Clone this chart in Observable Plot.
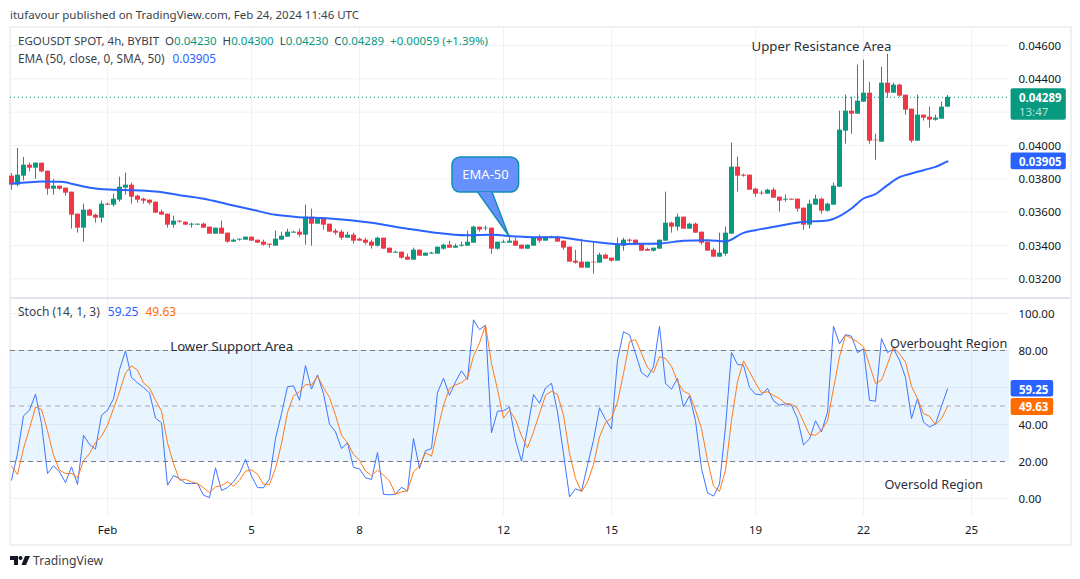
<!DOCTYPE html>
<html>
<head>
<meta charset="utf-8">
<script src="https://cdn.jsdelivr.net/npm/d3@7"></script>
<script src="https://cdn.jsdelivr.net/npm/@observablehq/plot@0.6"></script>
<style>
  body { margin: 0; background: #fff; font-family: "Noto Sans", sans-serif; color: #131722; }
  #page { position: relative; width: 1080px; height: 579px; overflow: hidden; }
  #frame { position: absolute; left: 9px; top: 26px; width: 1059px; height: 516px; border: 2px solid #eff0f4; }
  #divider { position: absolute; left: 11px; top: 297px; width: 1059px; height: 2px; background: #e0e3eb; }
  .line { position: absolute; font-size: 11.5px; white-space: pre; line-height: 16px; z-index: 2; color: #3b3f4a; }
  .up { color: #089981; }
  .k { color: #2962ff; }
  .d { color: #ff6d00; }
  #chart svg { position: absolute; left: 0; }
  #footer { position: absolute; left: 33px; top: 552px; font-size: 12.2px; line-height: 18px; color: #3b3f4a; }
  #logo { position: absolute; left: 10px; top: 556px; }
</style>
</head>
<body>
<div id="page">
  <div class="line" style="left:10px;top:7px">itufavour published on TradingView.com, Feb 24, 2024 11:46 UTC</div>
  <div id="frame"></div>
  <div id="chart"></div>
  <div id="divider"></div>
  <div class="line" style="left:18px;top:33px">EGOUSDT SPOT, 4h, BYBIT  O<span class="up">0.04230</span>  H<span class="up">0.04300</span>  L<span class="up">0.04230</span>  C<span class="up">0.04289</span>  <span class="up">+0.00059 (+1.39%)</span></div>
  <div class="line" style="left:18px;top:50px;font-size:11.8px">EMA (50, close, 0, SMA, 50)<span class="k" style="margin-left:8px">0.03905</span></div>
  <div class="line" style="left:18px;top:304px;font-size:12px">Stoch (14, 1, 3)<span class="k" style="margin-left:8px">59.25</span><span class="d" style="margin-left:7px">49.63</span></div>
  <svg id="logo" width="20" height="10" viewBox="0 0 20 10"><path fill="#131722" d="M0 0H8V9H4V4H0Z"/><circle cx="10.5" cy="2" r="2" fill="#131722"/><path fill="#131722" d="M15 0H20L16 9H11.5Z"/></svg>
  <div id="footer">TradingView</div>
</div>
<script>
// 4h candles, Jan 29 to Feb 24, prices in 1/100000 USDT
const opens = [
  3816,3762,3816,3882,3864,3894,3846,3738,3756,3744,3720,3588,3504,3612,3582,3564,
  3648,3642,3672,3744,3762,3696,3678,3672,3660,3600,3588,3522,3546,3540,3522,3522,3528,3510,3468,3504,
  3474,3420,3432,3432,3450,3432,3420,3408,3396,3432,3450,3474,3480,3462,3570,3528,3558,3528,3486,3480,
  3444,3462,3438,3432,3420,3396,3444,3384,3354,3360,3330,3312,3372,3336,3348,3348,3378,3402,3384,3396,
  3396,3414,3510,3500,3504,3378,3414,3414,3426,3402,3378,3396,3450,3426,3448,3450,3426,3390,3306,3300,
  3264,3300,3294,3342,3324,3306,3396,3432,3432,3408,3376,3366,3378,3426,3534,3510,3570,3498,3528,3480,
  3420,3372,3330,3348,3468,3870,3822,3822,3738,3714,3708,3732,3690,3672,3678,3678,3624,3522,3642,3678,
  3606,3642,3750,4086,4206,4188,4260,4314,4032,4020,4374,4314,4362,4302,4218,4026,4182,4170,4152,4158,4230
]
const highs = [
  3832,3982,3928,3894,3894,3894,3846,3796,3756,3744,3720,3588,3648,3618,3588,3666,
  3654,3708,3810,3834,3774,3702,3684,3672,3660,3612,3588,3576,3546,3540,3534,3528,3534,3510,3504,3546,
  3474,3438,3438,3450,3450,3432,3432,3408,3486,3480,3498,3486,3498,3642,3618,3558,3558,3528,3498,3492,
  3480,3474,3444,3444,3432,3450,3444,3384,3366,3360,3348,3384,3372,3354,3360,3390,3408,3426,3408,3420,
  3486,3516,3510,3516,3504,3420,3432,3462,3444,3402,3402,3444,3462,3450,3456,3456,3426,3390,3372,3438,
  3300,3418,3354,3348,3324,3444,3444,3438,3432,3408,3384,3384,3432,3720,3540,3588,3570,3534,3534,3480,
  3420,3384,3474,3510,4014,3930,3828,3822,3744,3726,3738,3744,3690,3702,3678,3678,3624,3672,3702,3684,
  3654,3774,4206,4302,4290,4482,4512,4380,4068,4470,4548,4374,4368,4302,4218,4302,4182,4230,4182,4260,4300
]
const lows = [
  3732,3752,3788,3842,3798,3836,3702,3702,3732,3696,3498,3474,3420,3576,3534,3534,
  3642,3630,3660,3702,3648,3654,3648,3642,3594,3582,3504,3504,3534,3522,3504,3522,3504,3468,3468,3468,
  3414,3420,3426,3432,3426,3414,3396,3384,3396,3432,3450,3474,3450,3402,3396,3528,3492,3480,3462,3432,
  3444,3408,3426,3402,3378,3390,3378,3354,3354,3318,3312,3312,3336,3336,3348,3348,3372,3384,3384,3390,
  3396,3414,3480,3486,3348,3372,3414,3414,3396,3378,3378,3396,3414,3426,3444,3420,3372,3300,3288,3264,
  3264,3228,3294,3318,3300,3306,3366,3414,3402,3366,3366,3360,3378,3426,3474,3486,3498,3498,3474,3402,
  3366,3330,3330,3336,3468,3720,3810,3732,3690,3702,3708,3684,3600,3660,3672,3600,3492,3498,3642,3588,
  3600,3642,3750,4008,4068,4188,4260,4008,3912,4020,4284,4314,4290,4182,4014,4026,4146,4104,4146,4158,4230
]
const closes = [
  3762,3822,3882,3864,3894,3842,3738,3756,3738,3714,3582,3504,3612,3576,3564,3648,
  3642,3678,3750,3762,3690,3672,3666,3654,3594,3582,3522,3546,3540,3522,3528,3528,3504,3468,3504,3468,
  3420,3432,3438,3450,3426,3414,3402,3402,3438,3456,3480,3480,3462,3570,3528,3558,3522,3480,3474,3444,
  3462,3426,3426,3414,3396,3444,3378,3354,3360,3324,3312,3372,3336,3354,3354,3390,3402,3384,3396,3402,
  3420,3510,3492,3504,3378,3420,3420,3426,3396,3378,3402,3444,3426,3450,3450,3420,3384,3300,3294,3264,
  3300,3296,3342,3318,3306,3402,3432,3426,3402,3366,3366,3384,3432,3534,3510,3570,3498,3528,3474,3414,
  3366,3330,3354,3474,3870,3816,3816,3732,3708,3710,3732,3684,3666,3678,3672,3618,3522,3648,3678,3606,
  3648,3756,4092,4206,4188,4266,4314,4026,4028,4374,4314,4362,4296,4212,4026,4182,4164,4152,4164,4230,4289
]

// EMA 50, read at the candles listed in emaAt
const emaAt = [-16,-13,-11,-8,-7,-6,-4,-2,1,4,8,12,16,20,24,28,32,37,44,50,54,60,64,68,71,75,78,82,85,88,92,96,100,103,106,108,112,116,120,121,124,126,128,130,132,134,136,138,140]
const emaValues = [3772,3780,3784,3782,3780,3770,3754,3742,3734,3732,3724,3702,3680,3648,3616,3584,3570,3562,3536,3500,3480,3462,3464,3454,3450,3450,3436,3418,3408,3410,3412,3428,3432,3424,3476,3492,3518,3542,3550,3560,3622,3682,3708,3762,3810,3832,3852,3872,3905]

const stochK = [
  9.9,24.3,44.7,47.7,56.4,40.5,13.5,17.7,14.4,8.6,17.1,7.6,34.2,29.2,26.7,45,
  47.7,53.9,69.7,79.8,65.4,62.5,60,57.1,43.4,40.9,7.2,12.4,10.8,8.1,8.1,8.1,1.8,0.5,16.6,4.3,
  5.9,9,13.5,21.1,12.1,5.9,5.8,10.6,32.4,45.9,60.4,60.9,53.1,71.9,59.1,66.8,56.7,40.2,36,27,
  30.1,16.8,16,11.2,10.3,24.9,2.2,2,2.3,6.1,4,32.4,16.2,25.8,27,57.3,65,55.8,63.1,69,
  64.3,96.6,91.3,93.7,35.5,47.2,47.4,49.4,31.5,20.2,37.8,56.2,51.5,59.8,62.3,46.8,24.3,0.9,5.2,4,
  18,31.5,49,42.7,37.5,74.8,90.1,88.5,78.4,68.1,65.6,71.2,93.1,62.2,59.1,64.9,49.5,55.5,42,16.2,
  3.1,1.3,7.7,38.7,78.9,72.4,72.1,60,56.4,56,59.5,52.8,50.4,51.2,50.4,43.2,29,32.2,42,36,
  46.8,93.1,83.6,88.6,87.7,78.9,80.9,53.1,52.6,86.5,78.9,80.9,74.8,65.4,43.2,54,41.3,38.7,40.2,49.9,59.25
]
const stochD = [
  17.5,13,27,37.8,49.5,48.1,36.6,23.4,15.3,13.5,13.5,11.2,20.4,24.3,30.3,33.7,
  39.6,48.6,57.7,67.9,71.7,69.4,62.5,59.8,53.1,47.2,30.1,18.9,9.9,10.3,9,8.1,5.8,3.2,6.3,7,
  9,6.7,9.9,14.8,15.5,13.1,7.7,7.6,16.2,29.7,46.5,55.5,57.7,61.6,61.3,66.1,60,54.6,45,34.2,
  30.1,23.8,20.7,14.8,12.4,15.3,12.6,9.5,2.3,3.6,4.1,14.4,17.5,24.7,22.9,36.9,50.4,59.5,61.3,62.7,
  65.2,76.9,84.1,93.7,73,58.9,43.4,47.7,42.7,33.9,27.4,36,45.9,55.8,58,56.2,45,24.3,10.8,3.6,
  9,18.4,33.3,41.1,43.4,52.2,67.6,84.7,85.9,78.4,70.8,68.1,76.6,75.7,71.5,63.1,58,56.4,47.7,37.8,
  20.7,6.7,3.8,15.3,42.3,63.1,74.4,68.5,62.5,57.1,57.7,55.8,54,51.3,51,48.6,41.4,34.6,34.2,36.9,
  42,59.5,76.6,88.3,86.5,84.7,82,72.1,62.2,64,72.6,82,78,73.9,60.7,54,45.9,44.5,39.8,43.2,49.63
]

const priceGrid = [0.032,0.034,0.036,0.038,0.04,0.042,0.044,0.046]
const priceLabels = [0.032,0.034,0.036,0.038,0.04,0.044,0.046]
const stochGrid = [0,20,40,60,80,100]
const dayTicks = [0,24,42,66,84,108,126,144]
const dayLabels = ['Feb','5','8','12','15','19','22','25']

const lastClose = 0.04289
const lastEma = 0.03905
const lastK = 59.25
const lastD = 49.63

const candles = opens.map((o, n) => ({
  i: n - 16,
  open: o / 1e5,
  high: highs[n] / 1e5,
  low: lows[n] / 1e5,
  close: closes[n] / 1e5,
  color: closes[n] >= o ? '#089981' : '#f23645'
}))
const ema = emaAt.map((i, n) => ({i: i, v: emaValues[n] / 1e5}))
const stoch = stochK.map((k, n) => ({i: n - 16, k: k, d: stochD[n]}))

const xDomain = [-16.1667, 150.3333]
const font = '"Noto Sans", sans-serif'
const gridColor = '#f0f1f5'
const labelX = 151.9   // where the price scale labels start
const boxLeft = 150.6
const boxRight = 159.8
const noteColor = '#2a2e39'

const calloutTail = [{i: 61.7, p: 0.0372}, {i: 66.9, p: 0.03456}, {i: 64.1, p: 0.0372}]

let priceChart = Plot.plot({
  width: 1080,
  height: 269,
  marginTop: 0,
  marginBottom: 0,
  marginLeft: 10,
  marginRight: 71,
  style: {fontFamily: font, fontSize: '11.5px', color: '#131722', background: 'transparent', top: '28px'},
  x: {domain: xDomain, axis: null},
  y: {domain: [0.03088, 0.04702], axis: null},
  marks: [
    Plot.ruleX(dayTicks, {stroke: gridColor}),
    Plot.ruleY(priceGrid, {stroke: gridColor}),
    Plot.axisY({anchor: 'right', ticks: priceLabels, tickSize: 0, tickPadding: 9, dy: 0.5, label: null, tickFormat: d3.format('.5f')}),
    Plot.ruleY([lastClose], {stroke: '#089981', strokeDasharray: '1 3'}),
    Plot.ruleX(candles, {x: 'i', y1: 'low', y2: 'high', stroke: 'color', strokeWidth: 1}),
    Plot.ruleX(candles, {x: 'i', y1: 'open', y2: 'close', stroke: 'color', strokeWidth: 5}),
    Plot.line(ema, {x: 'i', y: 'v', stroke: '#2962ff', strokeWidth: 2, curve: 'monotone-x'}),

    // EMA-50 callout
    Plot.rect([0], {x1: 57.5, x2: 68.6, y1: 0.03718, y2: 0.03928, fill: '#6690fb', stroke: '#1190b4', strokeWidth: 1.5, rx: 8, ry: 8}),
    Plot.line(calloutTail, {x: 'i', y: 'p', fill: '#6690fb', stroke: null}),
    Plot.line(calloutTail, {x: 'i', y: 'p', stroke: '#1190b4', strokeWidth: 1.5}),
    Plot.text(['EMA-50'], {x: 63, y: 0.03823, fill: '#fff', fontSize: 13}),

    Plot.text(['Upper Resistance Area'], {x: 119, y: 0.046, dy: 1, fontSize: 13.2, fill: noteColor}),

    // last price and EMA tags on the scale
    Plot.rect([0], {x1: boxLeft, x2: boxRight, y1: 0.04152, y2: 0.04341, fill: '#089981', rx: 2}),
    Plot.text(['0.04289'], {x: labelX, y: lastClose, dy: 1, textAnchor: 'start', fill: '#fff', fontWeight: 'bold'}),
    Plot.text(['13:47'], {x: labelX, y: 0.04198, textAnchor: 'start', fill: '#b5e3d8'}),
    Plot.rect([0], {x1: boxLeft, x2: boxRight, y1: 0.03855, y2: 0.03955, fill: '#2962ff', rx: 2}),
    Plot.text(['0.03905'], {x: labelX, y: lastEma, dy: 1, textAnchor: 'start', fill: '#fff', fontWeight: 'bold'})
  ]
})

let stochChart = Plot.plot({
  width: 1080,
  height: 246,
  marginTop: 0,
  marginBottom: 29,
  marginLeft: 10,
  marginRight: 71,
  style: {fontFamily: font, fontSize: '11.5px', color: '#131722', background: 'transparent', top: '298px'},
  x: {domain: xDomain, axis: null},
  y: {domain: [-9.19, 108.11], axis: null},
  marks: [
    Plot.ruleX(dayTicks, {stroke: gridColor}),
    Plot.ruleY(stochGrid, {stroke: gridColor}),
    Plot.rect([0], {x1: xDomain[0], x2: xDomain[1], y1: 20, y2: 80, fill: '#2196f3', fillOpacity: 0.1}),
    Plot.ruleY([80, 20], {stroke: '#787b86', strokeDasharray: '5 4'}),
    Plot.ruleY([50], {stroke: '#787b86', strokeOpacity: 0.6, strokeDasharray: '5 4'}),
    Plot.axisY({anchor: 'right', ticks: stochGrid, tickSize: 0, tickPadding: 9, dy: 0.5, label: null, tickFormat: d3.format('.2f')}),
    Plot.axisX({anchor: 'bottom', ticks: dayTicks, tickSize: 0, tickPadding: 10, label: null, tickFormat: d => dayLabels[dayTicks.indexOf(d)]}),
    Plot.line(stoch, {x: 'i', y: 'k', stroke: '#3f74ff', strokeWidth: 1}),
    Plot.line(stoch, {x: 'i', y: 'd', stroke: '#ff7a1a', strokeWidth: 1}),

    Plot.text(['Lower Support Area'], {x: 20.7, y: 82.2, fontSize: 13.2, fill: noteColor}),
    Plot.text(['Overbought Region'], {x: 140.2, y: 83.8, fontSize: 12.7, fill: noteColor}),
    Plot.text(['Oversold Region'], {x: 137.7, y: 7.6, fontSize: 12.7, fill: noteColor}),

    Plot.rect([0], {x1: boxLeft, x2: 157.7, y1: 54.8, y2: 63.8, fill: '#2962ff', rx: 2}),
    Plot.text(['59.25'], {x: labelX, y: lastK, dy: 1, textAnchor: 'start', fill: '#fff', fontWeight: 'bold'}),
    Plot.rect([0], {x1: boxLeft, x2: 157.7, y1: 44.9, y2: 54.05, fill: '#ff6d00', rx: 2}),
    Plot.text(['49.63'], {x: labelX, y: lastD, dy: 1, textAnchor: 'start', fill: '#fff', fontWeight: 'bold'})
  ]
})

d3.select('#chart').append(() => priceChart)
d3.select('#chart').append(() => stochChart)
</script>
</body>
</html>
